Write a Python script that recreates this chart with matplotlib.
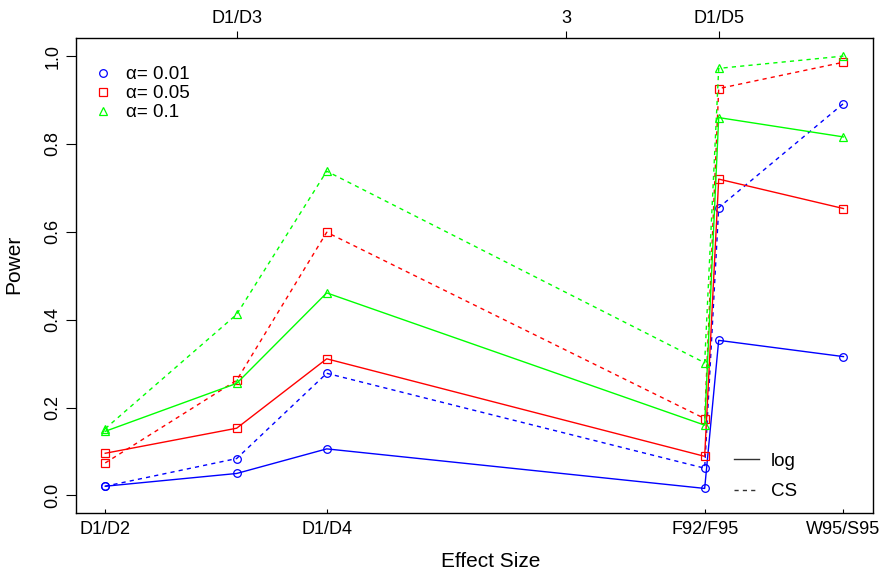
import matplotlib
matplotlib.use("Agg")
import matplotlib.pyplot as plt
from matplotlib.lines import Line2D

plt.rcParams["font.family"] = ["Liberation Sans", "DejaVu Sans"]

# effect size positions (scaled 0..1 along the axis)
x_eff = [0.0, 0.178, 0.300, 0.812, 0.831, 1.0]
bottom_ticks = [0.0, 0.300, 0.812, 1.0]
bottom_labels = ["D1/D2", "D1/D4", "F92/F95", "W95/S95"]
top_ticks = [0.178, 0.624, 0.831]
top_labels = ["D1/D3", "3", "D1/D5"]

alphas = ["0.01", "0.05", "0.1"]
log_power = [
    [0.021, 0.050, 0.106, 0.016, 0.353, 0.316],
    [0.096, 0.153, 0.311, 0.089, 0.720, 0.653],
    [0.146, 0.255, 0.461, 0.160, 0.860, 0.816],
]
cs_power = [
    [0.021, 0.084, 0.278, 0.062, 0.655, 0.892],
    [0.074, 0.262, 0.599, 0.175, 0.926, 0.986],
    [0.152, 0.412, 0.738, 0.302, 0.972, 1.000],
]
colors = ["#0000FF", "#FF0000", "#00FF00"]
markers = ["o", "s", "^"]

fig = plt.figure(figsize=(8.95, 5.72), dpi=100)
ax = fig.add_axes([0.0846, 0.1031, 0.8908, 0.8296])

for i in range(3):
    ax.plot(x_eff, log_power[i], color=colors[i], lw=1.0, marker=markers[i],
            mfc="none", mec=colors[i], ms=5.5, mew=0.9)
    ax.plot(x_eff, cs_power[i], color=colors[i], lw=1.0, ls=(0, (3, 3)),
            marker=markers[i], mfc="none", mec=colors[i], ms=5.5, mew=0.9)

ax.set_xlim(-0.04, 1.04)
ax.set_ylim(-0.04, 1.04)

ax.set_xticks(bottom_ticks)
ax.set_xticklabels(bottom_labels, fontsize=13)
ax.tick_params(axis="x", direction="in", length=3, pad=6)

ax.set_yticks([0.0, 0.2, 0.4, 0.6, 0.8, 1.0])
ax.set_yticklabels(["0.0", "0.2", "0.4", "0.6", "0.8", "1.0"], fontsize=13,
                   rotation=90, va="center")
ax.tick_params(axis="y", direction="out", length=7, pad=3.5)

top = ax.secondary_xaxis("top")
top.set_xticks(top_ticks)
top.set_xticklabels(top_labels, fontsize=13)
top.tick_params(direction="out", length=5, pad=3)

for s in ax.spines.values():
    s.set_linewidth(1.0)
top.spines["top"].set_visible(False)

ax.set_xlabel("Effect Size", fontsize=15)
ax.xaxis.set_label_coords(0.521, -0.082)
ax.set_ylabel("Power", fontsize=15)
ax.yaxis.set_label_coords(-0.066, 0.525)

h1 = [Line2D([], [], ls="none", marker=markers[i], mfc="none", mec=colors[i],
             ms=5.5, mew=0.9) for i in range(3)]
leg1 = ax.legend(h1, ["\u03b1= " + a for a in alphas], loc="upper left",
                 bbox_to_anchor=(-0.0075, 0.989), frameon=False, fontsize=13.5,
                 handlelength=1.2, handletextpad=0.6, labelspacing=0.1,
                 borderaxespad=0.8)
ax.add_artist(leg1)

h2 = [Line2D([], [], color="#333333", lw=1.0),
      Line2D([], [], color="#333333", lw=1.0, ls=(0, (3, 3)))]
ax.legend(h2, ["log", "CS"], loc="lower left", bbox_to_anchor=(0.804, -0.0084),
          frameon=False, fontsize=13.5, handlelength=1.33, handletextpad=0.67,
          labelspacing=0.72)

fig.savefig("out.png", dpi=100)
